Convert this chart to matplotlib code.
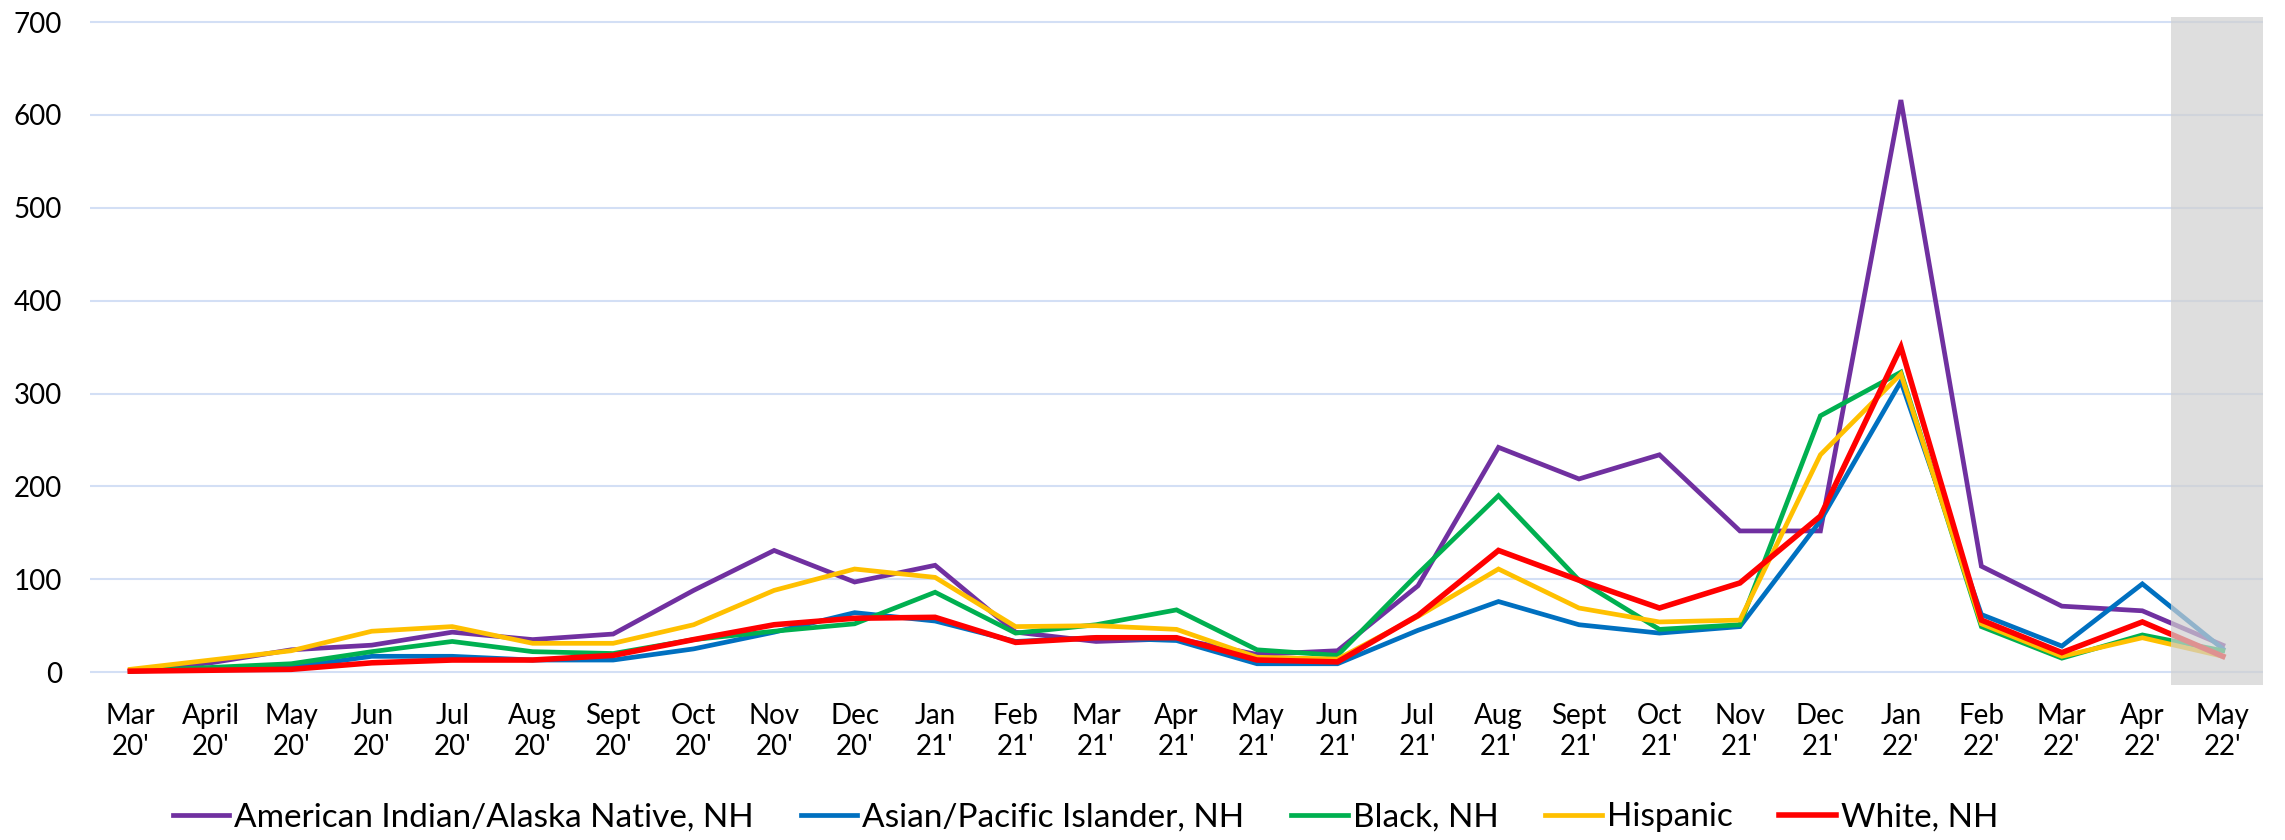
import matplotlib
matplotlib.use("Agg")
import matplotlib.pyplot as plt
from matplotlib.patches import Rectangle

plt.rcParams['font.family'] = ['Lato', 'DejaVu Sans']

months = ["Mar\n20'", "April\n20'", "May\n20'", "Jun\n20'", "Jul\n20'", "Aug\n20'", "Sept\n20'",
          "Oct\n20'", "Nov\n20'", "Dec\n20'", "Jan\n21'", "Feb\n21'", "Mar\n21'", "Apr\n21'",
          "May\n21'", "Jun\n21'", "Jul\n21'", "Aug\n21'", "Sept\n21'", "Oct\n21'", "Nov\n21'",
          "Dec\n21'", "Jan\n22'", "Feb\n22'", "Mar\n22'", "Apr\n22'", "May\n22'"]

aian = [1, 10, 24, 29, 43, 35, 41, 88, 131, 97, 115, 43, 33, 36, 19, 23, 93,
        242, 208, 234, 152, 152, 616, 114, 71, 66, 29]
asian = [1, 3, 5, 17, 17, 13, 13, 25, 43, 64, 55, 33, 37, 34, 9, 9, 45,
         76, 51, 42, 49, 163, 313, 62, 28, 95, 25]
black = [1, 5, 9, 22, 33, 22, 20, 35, 44, 52, 86, 42, 51, 67, 24, 18, 106,
         190, 99, 46, 51, 276, 323, 49, 15, 40, 23]
hispanic = [3, 13, 23, 44, 49, 31, 31, 51, 88, 111, 102, 49, 50, 46, 16, 14, 60,
            111, 69, 54, 56, 234, 321, 52, 17, 37, 17]
white = [1, 2, 3, 10, 13, 13, 18, 35, 51, 58, 59, 32, 37, 37, 13, 11, 61,
         131, 99, 69, 96, 168, 350, 56, 21, 54, 17]

series = [
    ("American Indian/Alaska Native, NH", aian, "#7030A0", 3.4),
    ("Asian/Pacific Islander, NH", asian, "#0070C0", 3.4),
    ("Black, NH", black, "#00B050", 3.4),
    ("Hispanic", hispanic, "#FFC000", 3.4),
    ("White, NH", white, "#FF0000", 4.0),
]

fig = plt.figure(figsize=(22.85, 8.4), dpi=100)
ax = fig.add_axes([0.0394, 0.1833, 0.951, 0.7993])

x = list(range(len(months)))
for name, vals, col, lw in series:
    ax.plot(x, vals, color=col, lw=lw, label=name, solid_joinstyle='miter', zorder=3)

# shaded (incomplete) last month
ax.add_patch(Rectangle((25.35, -14), 1.15, 719, facecolor='#d0d0d0', alpha=0.7,
                       edgecolor='none', zorder=4, clip_on=False))

ax.set_xlim(-0.5, 26.5)
ax.set_ylim(-15, 708)
ax.set_yticks(range(0, 701, 100))
ax.set_xticks(x)
ax.set_xticklabels(months, linespacing=1.25)
ax.tick_params(axis='y', length=0, labelsize=20, pad=20)
ax.tick_params(axis='x', length=0, labelsize=20, pad=12)
ax.grid(axis='y', color='#d3dff5', lw=1.5, zorder=0)
ax.set_axisbelow(True)
for s in ax.spines.values():
    s.set_visible(False)

fig.legend(loc='center', bbox_to_anchor=(0.475, 0.027), ncol=5, frameon=False,
           fontsize=24, handlelength=1.7, handletextpad=0.15, columnspacing=1.4)

fig.savefig("out.png", dpi=100)
